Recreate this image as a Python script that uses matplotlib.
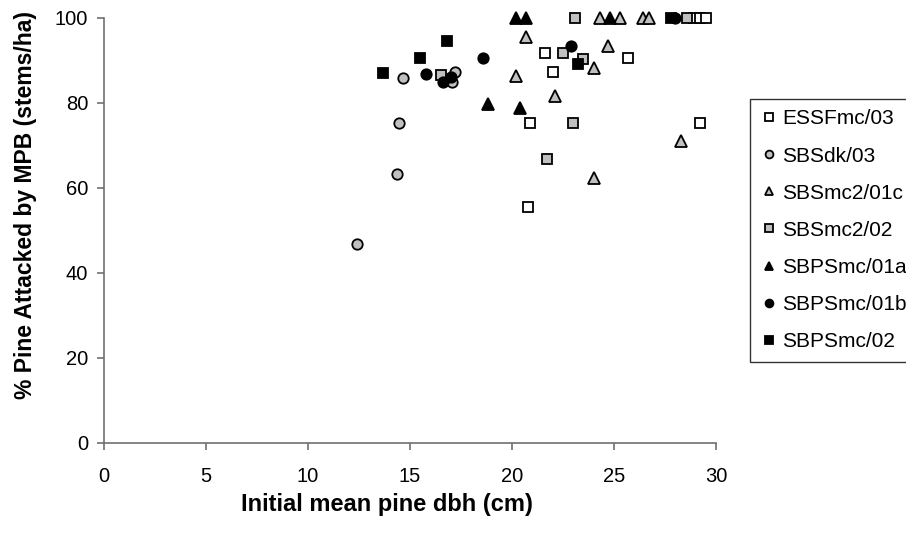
import matplotlib
matplotlib.use("Agg")
import matplotlib.pyplot as plt

plt.rcParams['font.family'] = ['Liberation Sans', 'DejaVu Sans']

# initial mean pine dbh (cm) vs % pine attacked, one list pair per site/year
essf_x = [20.8, 20.9, 21.6, 22.0, 25.7, 29.2, 28.9, 29.2, 29.5]
essf_y = [55.6, 75.4, 91.8, 87.2, 90.5, 75.4, 100, 100, 100]

sbsdk_x = [12.4, 14.35, 14.46, 14.64, 17.2, 17.05]
sbsdk_y = [46.8, 63.2, 75.4, 85.8, 87.4, 85.0]

sbsmc2_01c_x = [20.2, 20.7, 22.1, 24.0, 24.7, 24.0, 28.3, 24.3, 25.3, 26.4, 26.7]
sbsmc2_01c_y = [86.4, 95.6, 81.6, 88.2, 93.4, 62.3, 71.1, 100, 100, 100, 100]

sbsmc2_02_x = [16.5, 21.7, 22.5, 23.0, 23.1, 23.5, 28.6]
sbsmc2_02_y = [86.5, 66.8, 91.8, 75.4, 100, 90.3, 100]

sbps_01a_x = [18.8, 20.4, 20.2, 20.7, 24.8]
sbps_01a_y = [79.7, 78.8, 100, 100, 100]

sbps_01b_x = [15.8, 16.6, 17.0, 18.6, 22.9, 28.0]
sbps_01b_y = [86.8, 85.0, 86.2, 90.5, 93.4, 100]

sbps_02_x = [13.7, 15.5, 16.8, 23.25, 27.8]
sbps_02_y = [87.1, 90.5, 94.6, 89.2, 100]

series = [
    ("ESSFmc/03", essf_x, essf_y, "s", "white"),
    ("SBSdk/03", sbsdk_x, sbsdk_y, "o", "#c0c0c0"),
    ("SBSmc2/01c", sbsmc2_01c_x, sbsmc2_01c_y, "^", "#c0c0c0"),
    ("SBSmc2/02", sbsmc2_02_x, sbsmc2_02_y, "s", "#c0c0c0"),
    ("SBPSmc/01a", sbps_01a_x, sbps_01a_y, "^", "black"),
    ("SBPSmc/01b", sbps_01b_x, sbps_01b_y, "o", "black"),
    ("SBPSmc/02", sbps_02_x, sbps_02_y, "s", "black"),
]

fig = plt.figure(figsize=(9.06, 5.35), dpi=100)
ax = fig.add_axes([0.1148, 0.172, 0.6755, 0.7944])

for i, (name, xs, ys, mk, fc) in enumerate(series):
    ms = 8.5 if mk == "^" else 7.5
    ax.plot(xs, ys, linestyle="none", marker=mk, markersize=ms,
            markerfacecolor=fc, markeredgecolor="black", markeredgewidth=1.3,
            label=name, zorder=3 + i, clip_on=False)

ax.set_xlim(0, 30)
ax.set_ylim(0, 100)
ax.set_xticks(range(0, 31, 5))
ax.set_yticks(range(0, 101, 20))

for side in ("top", "right"):
    ax.spines[side].set_visible(False)
for side in ("left", "bottom"):
    ax.spines[side].set_color("#707070")
    ax.spines[side].set_linewidth(1.2)
ax.tick_params(direction="out", length=5, width=1.2, color="#707070",
               labelsize=14.5)
ax.tick_params(axis="x", pad=12)
ax.tick_params(axis="y", pad=6.5)

ax.set_xlabel("Initial mean pine dbh (cm)", fontsize=17, fontweight="bold",
              va="center")
ax.set_ylabel("% Pine Attacked by MPB (stems/ha)", fontsize=16.5,
              fontweight="bold", va="center")
ax.xaxis.set_label_coords(0.462, -0.145)
ax.yaxis.set_label_coords(-0.129, 0.56)

leg = ax.legend(loc="upper left", bbox_to_anchor=(0.828, 0.815),
                bbox_transform=fig.transFigure, frameon=True, fancybox=False,
                edgecolor="black", fontsize=15, handletextpad=0.25,
                labelspacing=0.87, borderpad=0.5, handlelength=0.8,
                borderaxespad=0, markerscale=0.75)
leg.get_frame().set_linewidth(1.0)

fig.savefig("out.png", dpi=100)
